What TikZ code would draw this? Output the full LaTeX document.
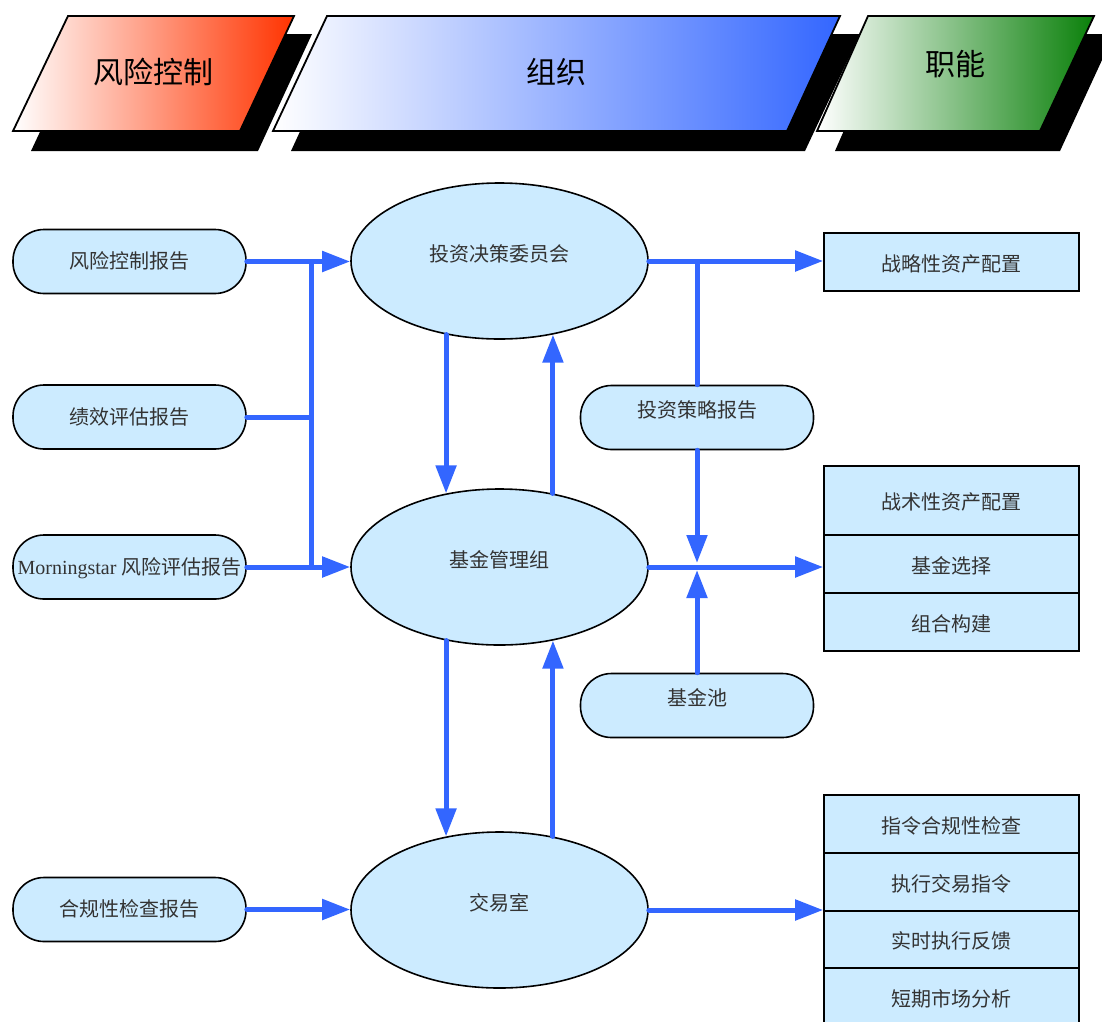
\documentclass[tikz,border=0pt]{standalone}
\usepackage{fontspec}
\setmainfont{Liberation Serif}
\newfontfamily\cjk{Noto Sans CJK SC}
\usetikzlibrary{shapes.geometric,arrows.meta,calc}
\definecolor{fillblue}{HTML}{CCEBFF}
\definecolor{lineblue}{HTML}{3366FF}
\definecolor{hred}{HTML}{FF3300}
\definecolor{hblue}{HTML}{3366FF}
\definecolor{hgreen}{HTML}{0A800A}
\definecolor{txt}{HTML}{333333}
\begin{document}
\begin{tikzpicture}[x=1pt,y=-1pt,
  bodyfont/.style={font=\fontsize{20}{23}\selectfont\cjk,text=txt},
  pill/.style={draw=black,line width=1.6pt,fill=fillblue,rounded corners=31pt,minimum width=233pt,minimum height=64pt,inner sep=0pt,bodyfont,text height=16pt,text depth=2pt},
  raised/.style={text height=10pt,text depth=10pt},
  oval/.style={ellipse,draw=black,line width=1.6pt,fill=fillblue,minimum width=297pt,minimum height=156pt,inner sep=0pt,bodyfont,text height=10pt,text depth=10pt},
  cell/.style={rectangle,draw=black,line width=1.6pt,fill=fillblue,minimum width=255pt,inner sep=0pt,bodyfont,text height=19pt,text depth=1pt},
  flow/.style={draw=lineblue,line width=5pt,line cap=round,-{Triangle[length=28pt,width=20pt]}},
  link/.style={draw=lineblue,line width=5pt,line cap=round},
  shadowbox/.style={fill=black},
  headbox/.style={draw=black,line width=1.8pt},
  headtext/.style={font=\fontsize{30}{34}\selectfont\cjk,text=black,inner sep=0pt}]
\useasboundingbox (0,0) rectangle (1102,1021);
\fill[white] (0,0) rectangle (1102,1021);
% header
\fill[shadowbox] (86,34) -- (312,34) -- (258,151) -- (31,151) -- cycle;
\draw[headbox,left color=white,right color=hred] (68,16) -- (294,16) -- (240,131) -- (13,131) -- cycle;
\fill[shadowbox] (345,34) -- (860,34) -- (805,151) -- (291,151) -- cycle;
\draw[headbox,left color=white,right color=hblue] (327,16) -- (840,16) -- (787,131) -- (273,131) -- cycle;
\fill[shadowbox] (886,34) -- (1114,34) -- (1060,151) -- (835,151) -- cycle;
\draw[headbox,left color=white,right color=hgreen] (868,16) -- (1094,16) -- (1040,131) -- (817,131) -- cycle;
\node[headtext] (ht1) at (153,72) {风险控制};
\node[headtext] (ht2) at (556,72) {组织};
\node[headtext] (ht3) at (955,64) {职能};
% left reports
\node[pill] (r1) at (129.5,261.5) {风险控制报告};
\node[pill] (r2) at (129.5,417) {绩效评估报告};
\node[pill] (r3) at (129.5,567) {\rmfamily Morningstar \cjk 风险评估报告};
\node[pill] (r4) at (129.5,909.5) {合规性检查报告};
% ellipses
\node[oval] (e1) at (499.5,261) {投资决策委员会};
\node[oval] (e2) at (499.5,567) {基金管理组};
\node[oval] (e3) at (499.5,910) {交易室};
% middle right pills
\node[pill,raised] (s1) at (697,417.5) {投资策略报告};
\node[pill,raised] (s2) at (697,705.5) {基金池};
% right cells
\node[cell,minimum height=58pt] (a1) at (951.5,262) {战略性资产配置};
\node[cell,minimum height=69pt] (b1) at (951.5,500.5) {战术性资产配置};
\node[cell,minimum height=58pt] (b2) at (951.5,564) {基金选择};
\node[cell,minimum height=58pt] (b3) at (951.5,622) {组合构建};
\node[cell,minimum height=58pt] (c1) at (951.5,824) {指令合规性检查};
\node[cell,minimum height=58pt] (c2) at (951.5,882) {执行交易指令};
\node[cell,minimum height=57pt] (c3) at (951.5,939.5) {实时执行反馈};
\node[cell,minimum height=58pt] (c4) at (951.5,997) {短期市场分析};
% connectors left
\coordinate (bt) at (311,261.5);
\coordinate (bb) at (311,567);
\draw[link] (bt) -- (bb);
\draw[flow] (r1.east) -- (r1.east -| e1.west);
\draw[link] (r2.east) -- (r2.east -| bt);
\draw[flow] (r3.east) -- (r3.east -| e2.west);
\draw[flow] (r4.east) -- (r4.east -| e3.west);
% vertical between ellipses
\draw[flow] (e1.234) -- (e2.126);
\draw[flow] (e2.54) -- (e1.306);
\draw[flow] (e2.234) -- (e3.126);
\draw[flow] (e3.54) -- (e2.306);
% right connectors
\coordinate (j1) at (697,262);
\coordinate (j2) at (697,567);
\draw[flow] (e1.east) -- (e1.east -| a1.west);
\draw[link] (s1.north) -- (j1);
\draw[flow] (e2.east) -- (e2.east -| b2.west);
\draw[flow,shorten >=4pt] (s1.south) -- (j2);
\draw[flow,shorten >=3pt] (s2.north) -- (j2);
\draw[flow] (e3.east) -- (e3.east -| c2.west);
\end{tikzpicture}
\end{document}
